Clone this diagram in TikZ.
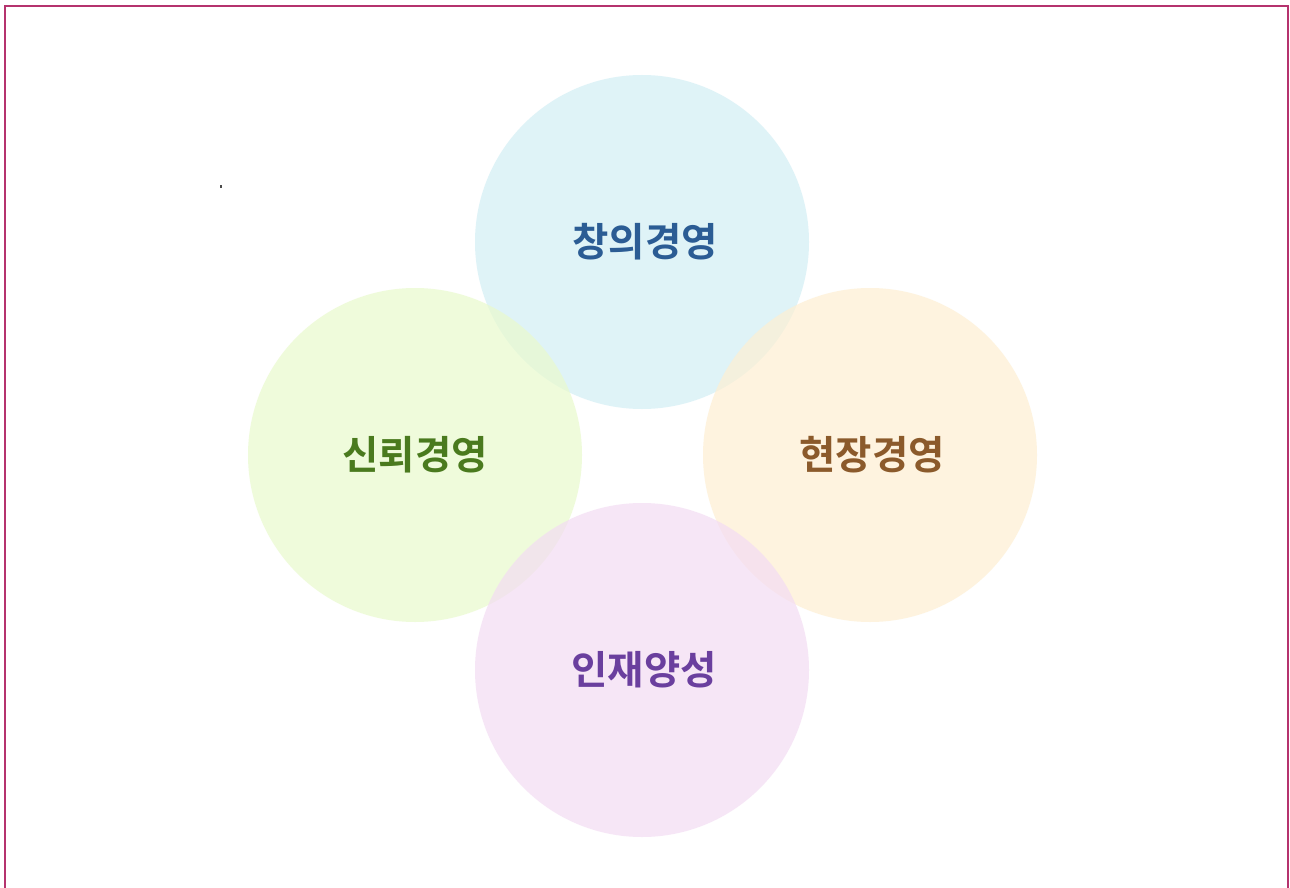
\documentclass[tikz,border=0pt]{standalone}
\usepackage{fontspec}
\newfontfamily\kr{Noto Sans CJK KR Bold}
\definecolor{cblue}{RGB}{210,238,245}
\definecolor{cgreen}{RGB}{233,250,205}
\definecolor{corange}{RGB}{254,239,210}
\definecolor{cpurple}{RGB}{243,220,243}
\definecolor{tblue}{RGB}{43,92,148}
\definecolor{tgreen}{RGB}{74,122,30}
\definecolor{torange}{RGB}{139,90,43}
\definecolor{tpurple}{RGB}{106,63,158}
\definecolor{frame}{RGB}{181,51,110}
\begin{document}
\begin{tikzpicture}[x=1pt,y=-1pt,
  bubble/.style={circle,minimum size=334pt,inner sep=0pt,fill opacity=0.7,text opacity=1},
  lbl/.style={font=\kr\fontsize{39.5}{44}\selectfont}]
\useasboundingbox (0,0) rectangle (1290,888);
\fill[white] (0,0) rectangle (1290,888);
\node[bubble,fill=cblue] (top) at (642,242) {};
\node[bubble,fill=cgreen] (left) at (415,455) {};
\node[bubble,fill=corange] (right) at (870,455) {};
\node[bubble,fill=cpurple] (bottom) at (642,670) {};
\node[lbl,text=tblue] (ttop) at (645,242) {창의경영};
\node[lbl,text=tgreen] (tleft) at (415,455) {신뢰경영};
\node[lbl,text=torange] (tright) at (872,455) {현장경영};
\node[lbl,text=tpurple] (tbottom) at (644,670) {인재양성};
\fill[black!70] (219.5,184.5) rectangle (221.5,187.5);
\draw[frame,line width=2pt] (5,888) -- (5,6) -- (1288,6) -- (1288,888);
\end{tikzpicture}
\end{document}
